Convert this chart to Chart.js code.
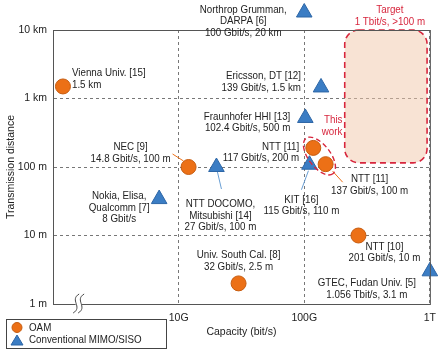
<!DOCTYPE html>
<html>
<head>
<meta charset="utf-8">
<script src="https://cdn.jsdelivr.net/npm/chart.js@4.4.0/dist/chart.umd.min.js"></script>
<style>
  body { margin: 0; background: #fff; }
  #wrap { width: 444px; height: 354px; }
</style>
</head>
<body>
<div id="wrap"><canvas id="myChart" width="444" height="354"></canvas></div>
<script>
// OAM points (capacity in bit/s, distance in m)
var oamNames = ['Vienna', 'NEC', 'NTT11a', 'NTT11b', 'USC', 'NTT10'];
var oamCapacity = [1.2e9, 12e9, 118e9, 148e9, 30e9, 270e9];
var oamDistance = [1500, 100, 190, 110, 2, 10];
var oamLabels = [
  ['Vienna Univ. [15]', '1.5 km'],
  ['NEC [9]', '14.8 Gbit/s, 100 m'],
  ['NTT [11]', '117 Gbit/s, 200 m'],
  ['NTT [11]', '137 Gbit/s, 100 m'],
  ['Univ. South Cal. [8]', '32 Gbit/s, 2.5 m'],
  ['NTT [10]', '201 Gbit/s, 10 m']
];

// conventional MIMO/SISO points
var mimoNames = ['Northrop', 'Ericsson', 'Fraunhofer', 'Nokia', 'Docomo', 'KIT', 'GTEC'];
var mimoCapacity = [100e9, 136e9, 102e9, 7e9, 20e9, 110e9, 1000e9];
var mimoDistance = [18000, 1450, 520, 34, 100, 108, 3];
var mimoLabels = [
  ['Northrop Grumman,', 'DARPA [6]', '100 Gbit/s, 20 km'],
  ['Ericsson, DT [12]', '139 Gbit/s, 1.5 km'],
  ['Fraunhofer HHI [13]', '102.4 Gbit/s, 500 m'],
  ['Nokia, Elisa,', 'Qualcomm [7]', '8 Gbit/s'],
  ['NTT DOCOMO,', 'Mitsubishi [14]', '27 Gbit/s, 100 m'],
  ['KIT [16]', '115 Gbit/s, 110 m'],
  ['GTEC, Fudan Univ. [5]', '1.056 Tbit/s, 3.1 m']
];

// axes
var xTicks = [1e10, 1e11, 1e12];
var xTickLabels = ['10G', '100G', '1T'];
var yTicks = [1, 10, 100, 1000, 10000];
var yTickLabels = ['1 m', '10 m', '100 m', '1 km', '10 km'];

// target region
var targetCapacity = [210e9, 950e9];
var targetDistance = [115, 10000];

// where each label sits relative to its point (pixels)
var labelLayout = {
  Vienna:     { dx: 9,   dy: -13, align: 'left' },
  NEC:        { dx: -58, dy: -20, align: 'center', line: [-5, -6, -16, -13] },
  NTT11a:     { dx: -14, dy: -1,  align: 'right' },
  NTT11b:     { dx: 44,  dy: 15,  align: 'center', line: [7, 7, 17, 18] },
  USC:        { dx: 0,   dy: -28, align: 'center' },
  NTT10:      { dx: 26,  dy: 11,  align: 'center' },
  Northrop:   { dx: -61, dy: -3,  align: 'center' },
  Ericsson:   { dx: -20, dy: -11, align: 'right' },
  Fraunhofer: { dx: -15, dy: -1,  align: 'right' },
  Nokia:      { dx: -40, dy: -3,  align: 'center' },
  Docomo:     { dx: 4,   dy: 37,  align: 'center', line: [1, 5, 5, 22] },
  KIT:        { dx: -8,  dy: 35,  align: 'center', line: [-1, 6, -8, 25] },
  GTEC:       { dx: -63, dy: 12,  align: 'center' }
};

var ORANGE = '#ec7016';
var ORANGE_EDGE = '#c65c10';
var BLUE = '#3b7dc4';
var BLUE_EDGE = '#2d66a6';
var RED = '#d7263d';
var FONT = '11px "Liberation Sans", Arial, sans-serif';
var SQUEEZE = 0.89; // the original lettering is a bit narrower than Arial

function toPoints(xs, ys) {
  var out = [];
  for (var i = 0; i < xs.length; i++) out.push({ x: xs[i], y: ys[i] });
  return out;
}

function drawLines(ctx, lines, x, y, align) {
  ctx.textAlign = align;
  ctx.textBaseline = 'middle';
  for (var i = 0; i < lines.length; i++) {
    ctx.save();
    ctx.translate(x, y + i * 11.5);
    ctx.scale(SQUEEZE, 1);
    ctx.fillText(lines[i], 0, 0);
    ctx.restore();
  }
}

var savedArea = null;

var decorations = {
  id: 'decorations',
  beforeDatasetsDraw: function(chart) {
    var ctx = chart.ctx;
    var xs = chart.scales.x, ys = chart.scales.y;
    // target box
    var x1 = xs.getPixelForValue(targetCapacity[0]);
    var x2 = xs.getPixelForValue(targetCapacity[1]);
    var y1 = ys.getPixelForValue(targetDistance[1]);
    var y2 = ys.getPixelForValue(targetDistance[0]);
    ctx.save();
    ctx.beginPath();
    ctx.roundRect(x1, y1, x2 - x1, y2 - y1, 14);
    ctx.fillStyle = 'rgba(242, 200, 170, 0.5)';
    ctx.fill();
    ctx.setLineDash([6, 4]);
    ctx.strokeStyle = RED;
    ctx.lineWidth = 1.6;
    ctx.stroke();
    ctx.restore();

    ctx.save();
    ctx.font = FONT;
    ctx.fillStyle = RED;
    drawLines(ctx, ['Target', '1 Tbit/s, >100 m'], (x1 + x2) / 2 + 4, chart.chartArea.top - 20, 'center');
    ctx.restore();

    // leader lines
    ctx.save();
    ctx.lineWidth = 1;
    var sets = [[oamNames, oamCapacity, oamDistance, ORANGE], [mimoNames, mimoCapacity, mimoDistance, '#6a9fd4']];
    sets.forEach(function(s) {
      for (var i = 0; i < s[0].length; i++) {
        var l = labelLayout[s[0][i]];
        if (!l.line) continue;
        var px = xs.getPixelForValue(s[1][i]);
        var py = ys.getPixelForValue(s[2][i]);
        ctx.strokeStyle = s[3];
        ctx.beginPath();
        ctx.moveTo(px + l.line[0], py + l.line[1]);
        ctx.lineTo(px + l.line[2], py + l.line[3]);
        ctx.stroke();
      }
    });
    ctx.restore();
  },
  // let points above the plot (20 km) still be drawn
  beforeDatasetDraw: function(chart) {
    savedArea = chart.chartArea.top;
    chart.chartArea.top = 0;
  },
  afterDatasetDraw: function(chart) {
    chart.chartArea.top = savedArea;
  },
  afterDatasetsDraw: function(chart) {
    var ctx = chart.ctx;
    var xs = chart.scales.x, ys = chart.scales.y;
    var a = chart.chartArea;

    // frame (top and right)
    ctx.save();
    ctx.strokeStyle = '#555';
    ctx.lineWidth = 1;
    ctx.strokeRect(a.left + 0.5, a.top + 0.5, a.right - a.left, a.bottom - a.top);
    ctx.restore();

    // axis break mark
    var bx = xs.getPixelForValue(1.6e9);
    var by = a.bottom;
    ctx.save();
    ctx.fillStyle = '#fff';
    ctx.fillRect(bx - 3, by - 2, 6, 4);
    ctx.strokeStyle = '#444';
    ctx.lineWidth = 1;
    [-2.5, 2.5].forEach(function(o) {
      ctx.beginPath();
      ctx.moveTo(bx + o + 3, by - 10);
      ctx.bezierCurveTo(bx + o - 7, by - 4, bx + o + 7, by + 3, bx + o - 3, by + 9);
      ctx.stroke();
    });
    ctx.restore();

    // "This work" ellipse around the two NTT [11] points
    var pa = { x: xs.getPixelForValue(oamCapacity[2]), y: ys.getPixelForValue(oamDistance[2]) };
    var pb = { x: xs.getPixelForValue(oamCapacity[3]), y: ys.getPixelForValue(oamDistance[3]) };
    var cx = (pa.x + pb.x) / 2, cy = (pa.y + pb.y) / 2;
    var ang = Math.atan2(pb.y - pa.y, pb.x - pa.x);
    var half = Math.hypot(pb.x - pa.x, pb.y - pa.y) / 2;
    ctx.save();
    ctx.beginPath();
    ctx.ellipse(cx, cy, half + 12, 11, ang, 0, Math.PI * 2);
    ctx.setLineDash([5, 3]);
    ctx.strokeStyle = RED;
    ctx.lineWidth = 1.4;
    ctx.stroke();
    ctx.setLineDash([]);
    ctx.font = FONT;
    ctx.fillStyle = RED;
    drawLines(ctx, ['This', 'work'], cx + 23, cy - 36, 'right');
    ctx.restore();

    // point labels
    ctx.save();
    ctx.font = FONT;
    ctx.fillStyle = '#222';
    var groups = [[oamNames, oamCapacity, oamDistance, oamLabels], [mimoNames, mimoCapacity, mimoDistance, mimoLabels]];
    groups.forEach(function(g) {
      for (var i = 0; i < g[0].length; i++) {
        var l = labelLayout[g[0][i]];
        var px = xs.getPixelForValue(g[1][i]);
        var py = ys.getPixelForValue(g[2][i]);
        drawLines(ctx, g[3][i], px + l.dx, py + l.dy, l.align);
      }
    });
    ctx.restore();

    // legend box
    ctx.save();
    ctx.strokeStyle = '#444';
    ctx.lineWidth = 1;
    ctx.strokeRect(6.5, 319.5, 160, 29);
    ctx.fillStyle = ORANGE;
    ctx.strokeStyle = ORANGE_EDGE;
    ctx.beginPath();
    ctx.arc(17, 327.5, 5, 0, Math.PI * 2);
    ctx.fill();
    ctx.stroke();
    ctx.fillStyle = BLUE;
    ctx.strokeStyle = BLUE_EDGE;
    ctx.beginPath();
    ctx.moveTo(17, 335);
    ctx.lineTo(23, 345);
    ctx.lineTo(11, 345);
    ctx.closePath();
    ctx.fill();
    ctx.stroke();
    ctx.font = FONT;
    ctx.fillStyle = '#222';
    drawLines(ctx, ['OAM', 'Conventional MIMO/SISO'], 29, 328, 'left');
    ctx.restore();
  }
};

Chart.defaults.font.family = '"Liberation Sans", Arial, sans-serif';
Chart.defaults.font.size = 10.5;
Chart.defaults.color = '#222';

var ctx = document.getElementById('myChart').getContext('2d');
new Chart(ctx, {
  type: 'scatter',
  data: {
    datasets: [
      {
        label: 'OAM',
        data: toPoints(oamCapacity, oamDistance),
        pointStyle: 'circle',
        pointRadius: 7.5,
        backgroundColor: ORANGE,
        borderColor: ORANGE_EDGE,
        borderWidth: 1,
        clip: false
      },
      {
        label: 'Conventional MIMO/SISO',
        data: toPoints(mimoCapacity, mimoDistance),
        pointStyle: 'triangle',
        pointRadius: 9,
        backgroundColor: BLUE,
        borderColor: BLUE_EDGE,
        borderWidth: 1,
        clip: false
      }
    ]
  },
  options: {
    responsive: false,
    animation: false,
    layout: { padding: { top: 30, right: 14, left: 0, bottom: 0 } },
    plugins: {
      legend: { display: false },
      tooltip: { enabled: false }
    },
    scales: {
      x: {
        type: 'logarithmic',
        min: 1e9,
        max: 1e12,
        afterFit: function(scale) { scale.height = 50; },
        afterBuildTicks: function(scale) {
          scale.ticks = xTicks.map(function(v) { return { value: v }; });
        },
        ticks: {
          autoSkip: false,
          maxRotation: 0,
          padding: 8,
          color: '#222',
          callback: function(value) {
            var i = xTicks.indexOf(value);
            return i >= 0 ? xTickLabels[i] : '';
          }
        },
        grid: { color: '#777', drawTicks: false },
        border: { color: '#555', dash: [3, 3] },
        title: { display: true, text: 'Capacity (bit/s)', color: '#222', padding: { top: 0, bottom: 16 } }
      },
      y: {
        type: 'logarithmic',
        min: 1,
        max: 10000,
        afterFit: function(scale) { scale.width = 53; },
        afterBuildTicks: function(scale) {
          scale.ticks = yTicks.map(function(v) { return { value: v }; });
        },
        ticks: {
          autoSkip: false,
          padding: 6,
          color: '#222',
          callback: function(value) {
            var i = yTicks.indexOf(value);
            return i >= 0 ? yTickLabels[i] : '';
          }
        },
        grid: { color: '#777', drawTicks: false },
        border: { color: '#555', dash: [3, 3] },
        title: { display: true, text: 'Transmission distance', color: '#222', padding: { top: 5, bottom: 0 } }
      }
    }
  },
  plugins: [decorations]
});
</script>
</body>
</html>
